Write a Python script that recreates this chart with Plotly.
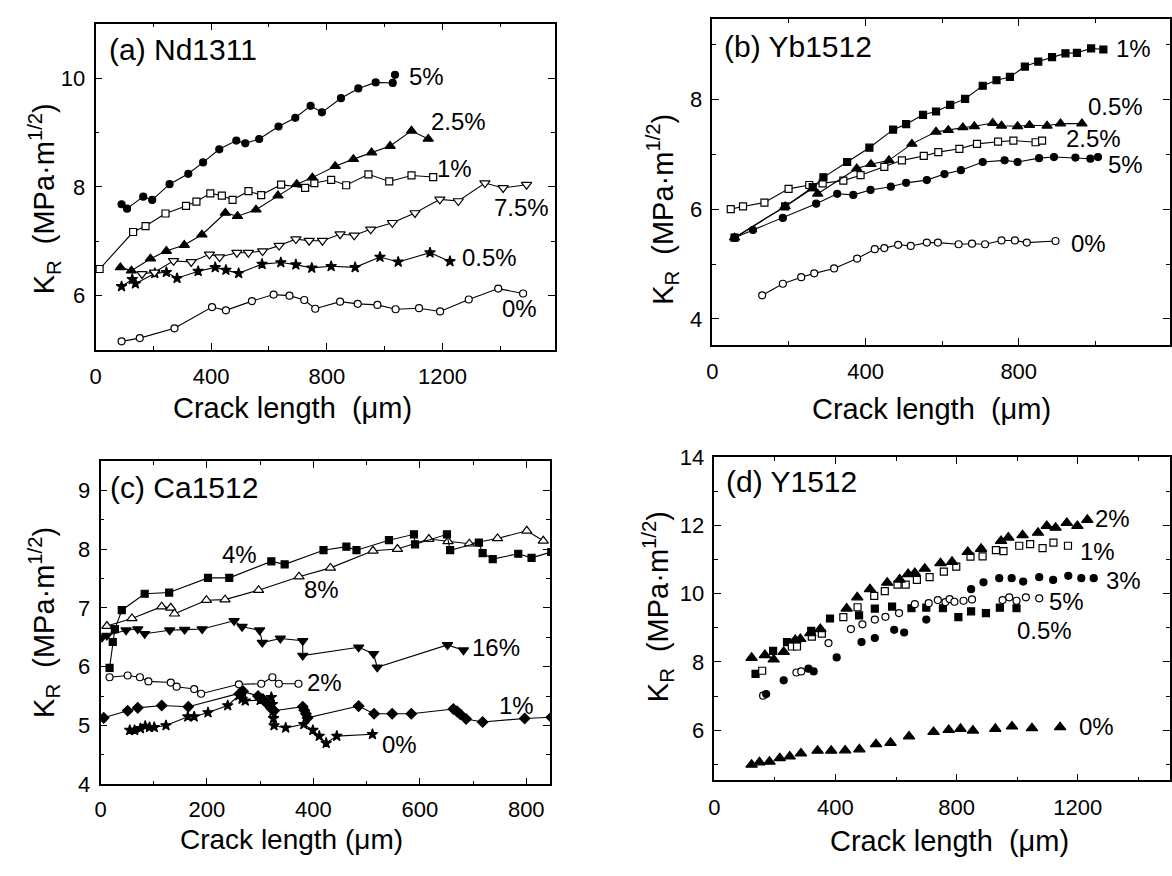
import plotly.graph_objects as go

# ---------------- (a) Nd1311 ----------------
A5_x = [90,109,165,196,256,321,372,428,487,518,566,633,691,744,783,849,909,969,1028,1036]
A5_y = [7.68,7.60,7.82,7.76,8.05,8.24,8.45,8.69,8.85,8.80,8.88,9.11,9.27,9.49,9.37,9.63,9.81,9.92,9.91,10.06]
A25_x = [86,124,190,245,307,368,449,491,555,631,696,750,829,892,955,1019,1093,1151]
A25_y = [6.52,6.46,6.68,6.82,6.93,7.12,7.52,7.46,7.58,7.84,8.05,8.17,8.38,8.51,8.63,8.75,9.03,8.88]
A1_x = [14,130,173,242,313,349,397,437,474,529,573,642,725,757,815,867,944,1016,1093,1168]
A1_y = [6.49,7.17,7.28,7.51,7.65,7.73,7.88,7.84,7.76,7.92,7.85,8.04,7.98,8.07,8.13,8.03,8.23,8.10,8.21,8.18]
A75_x = [161,204,270,331,394,429,489,529,578,635,693,739,785,846,895,952,1027,1105,1191,1255,1347,1410,1491]
A75_y = [6.40,6.43,6.64,6.62,6.76,6.71,6.79,6.79,6.82,6.92,7.04,7.01,7.01,7.13,7.11,7.22,7.34,7.52,7.77,7.74,8.07,7.98,8.04]
A05_x = [90,127,138,205,245,282,355,414,451,495,576,641,693,748,815,898,984,1047,1157,1226]
A05_y = [6.17,6.30,6.22,6.41,6.43,6.32,6.45,6.52,6.47,6.41,6.58,6.61,6.57,6.51,6.54,6.52,6.71,6.62,6.79,6.63]
A0_x = [90,153,273,403,451,541,616,671,722,760,846,907,975,1038,1119,1192,1291,1393,1479]
A0_y = [5.16,5.22,5.40,5.79,5.73,5.90,6.02,6.00,5.92,5.76,5.89,5.85,5.83,5.75,5.77,5.71,5.93,6.13,6.04]

# ---------------- (b) Yb1512 ----------------
B1_x = [58,190,262,290,352,410,472,506,550,584,621,660,706,742,777,816,851,887,922,952,989,1021]
B1_y = [5.48,6.05,6.40,6.58,6.86,7.12,7.45,7.55,7.72,7.78,7.90,8.01,8.25,8.35,8.41,8.60,8.69,8.77,8.84,8.85,8.93,8.91]
B05_x = [58,190,262,275,377,414,461,521,584,616,654,684,732,755,797,828,874,909,965]
B05_y = [5.48,6.05,6.38,6.28,6.74,6.82,6.89,7.19,7.41,7.44,7.49,7.51,7.57,7.52,7.51,7.53,7.52,7.56,7.56]
B25_x = [48,80,136,199,253,288,342,387,449,495,552,590,645,691,746,786,844,861]
B25_y = [6.00,6.05,6.12,6.37,6.44,6.47,6.52,6.62,6.77,6.89,6.97,7.04,7.10,7.19,7.23,7.25,7.22,7.25]
B5_x = [58,106,184,271,326,368,413,466,506,560,606,649,706,763,797,853,892,948,987,1007]
B5_y = [5.48,5.62,5.84,6.10,6.28,6.26,6.35,6.41,6.48,6.53,6.64,6.71,6.86,6.89,6.86,6.93,6.95,6.94,6.92,6.95]
B0_x = [130,184,232,266,318,378,424,449,485,518,560,589,643,678,712,755,790,821,896]
B0_y = [4.43,4.64,4.76,4.83,4.92,5.10,5.27,5.29,5.35,5.33,5.39,5.39,5.36,5.37,5.36,5.43,5.43,5.39,5.42]

# ---------------- (c) Ca1512 ----------------
C4_x = [17,23,27,40,83,129,202,242,321,346,419,462,481,542,589,591,651,657,711,718,737,785,810,847]
C4_y = [5.98,6.42,6.64,6.96,7.24,7.26,7.51,7.51,7.79,7.74,7.98,8.04,7.98,8.15,8.25,8.08,8.25,7.98,8.11,7.93,7.83,7.92,7.85,7.95]
C8_x = [12,59,115,132,139,199,234,297,373,432,512,558,617,653,693,746,801,832]
C8_y = [6.69,6.82,7.02,7.00,6.90,7.13,7.14,7.30,7.53,7.68,7.97,8.00,8.17,8.13,8.09,8.18,8.31,8.14]
C16_x = [3,12,48,70,83,130,158,191,251,266,299,304,338,380,380,485,513,520,652,682]
C16_y = [6.50,6.53,6.62,6.64,6.56,6.62,6.63,6.64,6.78,6.68,6.62,6.41,6.48,6.44,6.19,6.33,6.22,5.99,6.37,6.28]
C2_x = [17,51,74,90,132,143,176,189,260,302,323,335,372]
C2_y = [5.82,5.85,5.82,5.75,5.73,5.66,5.62,5.54,5.70,5.71,5.82,5.71,5.71]
C1_x = [6,51,70,115,165,262,268,296,305,313,321,326,380,383,386,389,485,514,548,584,663,670,676,687,718,797,847]
C1_y = [5.13,5.25,5.30,5.34,5.32,5.55,5.58,5.50,5.45,5.37,5.29,5.25,5.32,5.26,5.20,5.13,5.33,5.20,5.20,5.20,5.28,5.24,5.19,5.11,5.06,5.12,5.14]
C0_x = [55,64,75,84,92,101,123,164,176,202,239,260,266,272,300,321,323,324,325,326,348,382,399,411,424,444,511]
C0_y = [4.92,4.92,4.95,4.99,4.97,4.97,5.00,5.15,5.15,5.22,5.34,5.51,5.45,5.42,5.43,5.48,5.36,5.24,5.12,5.00,4.96,5.02,4.92,4.82,4.70,4.82,4.85]

# ---------------- (d) Y1512 ----------------
D2_x = [123,167,196,229,267,284,317,350,437,472,514,571,612,640,662,695,747,785,837,881,947,971,1018,1069,1098,1127,1164,1199,1232]
D2_y = [8.12,8.20,8.07,8.29,8.64,8.67,8.84,8.96,9.56,9.89,10.13,10.32,10.41,10.57,10.60,10.73,10.89,10.93,11.22,11.31,11.54,11.64,11.71,11.78,11.98,11.93,12.07,11.98,12.16]
D1_x = [158,256,273,322,355,426,473,528,563,605,632,669,711,758,799,846,886,930,955,1007,1043,1084,1120,1168]
D1_y = [7.74,8.45,8.45,8.74,8.83,9.31,9.60,9.93,10.07,10.26,10.26,10.40,10.48,10.64,10.79,11.08,11.09,11.27,11.24,11.40,11.45,11.33,11.49,11.40]
D3_x = [171,229,311,328,404,486,530,594,627,700,848,889,941,982,1020,1073,1119,1169,1212,1253]
D3_y = [7.06,7.46,7.80,7.72,8.13,8.58,8.70,8.94,8.86,9.24,10.13,10.33,10.45,10.45,10.35,10.48,10.40,10.52,10.45,10.45]
D5_x = [161,271,287,377,451,489,530,565,610,662,708,738,763,777,793,823,851,952,974,998,1029,1073]
D5_y = [7.01,7.69,7.72,8.55,8.96,9.10,9.24,9.32,9.43,9.69,9.72,9.81,9.75,9.84,9.76,9.79,9.83,9.81,9.89,9.79,9.89,9.86]
D05_x = [136,194,240,320,382,478,530,587,651,700,755,806,848,897,943,998]
D05_y = [7.65,8.32,8.58,8.91,9.27,9.36,9.56,9.62,9.57,9.59,9.57,9.31,9.48,9.43,9.59,9.57]
D0_x = [123,149,182,216,249,286,341,386,432,479,534,582,643,724,774,813,854,928,983,1049,1142]
D0_y = [4.99,5.06,5.08,5.18,5.23,5.32,5.40,5.40,5.41,5.44,5.59,5.63,5.82,5.95,6.01,6.04,5.99,6.04,6.11,6.06,6.09]

W, H = 1172, 876
FONT = "Liberation Sans, Arial, sans-serif"

fig = go.Figure()

def add(xs, ys, sym, filled, size, ax, lines=True):
    mk = dict(symbol=sym, size=size,
              color="black" if filled else "white",
              line=dict(color="black", width=1.2))
    fig.add_trace(go.Scatter(
        x=xs, y=ys, mode="lines+markers" if lines else "markers",
        line=dict(color="black", width=1.1), marker=mk,
        xaxis="x" + ("" if ax == 1 else str(ax)),
        yaxis="y" + ("" if ax == 1 else str(ax)),
        showlegend=False, hoverinfo="skip"))

# (a)
add(A0_x, A0_y, "circle", False, 7, 1)
add(A05_x, A05_y, "star", True, 8, 1)
add(A75_x, A75_y, "triangle-down", False, 9, 1)
add(A1_x, A1_y, "square", False, 7, 1)
add(A25_x, A25_y, "triangle-up", True, 9, 1)
add(A5_x, A5_y, "circle", True, 7, 1)
# (b)
add(B0_x, B0_y, "circle", False, 7, 2)
add(B25_x, B25_y, "square", False, 7, 2)
add(B5_x, B5_y, "circle", True, 7, 2)
add(B1_x, B1_y, "square", True, 7, 2)
add(B05_x, B05_y, "triangle-up", True, 9, 2)
# (c)
add(C0_x, C0_y, "star", True, 8, 3)
add(C1_x, C1_y, "diamond", True, 8, 3)
add(C2_x, C2_y, "circle", False, 7, 3)
add(C16_x, C16_y, "triangle-down", True, 9, 3)
add(C8_x, C8_y, "triangle-up", False, 9, 3)
add(C4_x, C4_y, "square", True, 7, 3)
# (d)
add(D0_x, D0_y, "triangle-up", True, 10, 4, False)
add(D05_x, D05_y, "square", True, 7, 4, False)
add(D5_x, D5_y, "circle", False, 7, 4, False)
add(D3_x, D3_y, "circle", True, 7, 4, False)
add(D1_x, D1_y, "square", False, 7, 4, False)
add(D2_x, D2_y, "triangle-up", True, 10, 4, False)

def axis(dom, rng, dtick, mdtick, anchor, standoff):
    return dict(domain=dom, range=rng, dtick=dtick, tick0=0,
                showline=True, linecolor="black", linewidth=1.6,
                mirror="allticks", ticks="inside", ticklen=7, tickwidth=1.4,
                tickcolor="black", showgrid=False, zeroline=False,
                minor=dict(ticks="inside", dtick=mdtick, ticklen=4, tickwidth=1.2,
                           tickcolor="black", showgrid=False),
                tickfont=dict(family=FONT, size=22, color="black"),
                anchor=anchor, ticklabelstandoff=standoff)

def dx(a, b):
    return [a / W, b / W]

def dy(top, bot):
    return [1 - bot / H, 1 - top / H]

fig.update_layout(
    width=W, height=H, margin=dict(l=0, r=0, t=0, b=0),
    paper_bgcolor="white", plot_bgcolor="white",
    xaxis=axis(dx(90, 552), [0, 1590], 400, 200, "y", 6),
    yaxis=axis(dy(12, 348), [5, 11], 2, 1, "x", 4),
    xaxis2=axis(dx(710, 1170), [0, 1195], 400, 200, "y2", 6),
    yaxis2=axis(dy(7, 343), [3.52, 9.47], 2, 1, "x2", 4),
    xaxis3=axis(dx(95, 547), [0, 845], 200, 100, "y3", 4),
    yaxis3=axis(dy(462, 795), [4, 9.5], 1, 0.5, "x3", 4),
    xaxis4=axis(dx(712, 1170), [0, 1505], 400, 200, "y4", 6),
    yaxis4=axis(dy(458, 791), [4.53, 14], 2, 1, "x4", 4),
)

ann = []
def lab(text, x, y, ax, size=24):
    s = "" if ax == 1 else str(ax)
    ann.append(dict(text=text, x=x, y=y, xref="x" + s, yref="y" + s,
                    showarrow=False, xanchor="center", yanchor="middle",
                    font=dict(family=FONT, size=size, color="black")))

def paper(text, px, py, size, angle=0, xanchor="center"):
    ann.append(dict(text=text, x=px / W, y=1 - py / H, xref="paper", yref="paper",
                    showarrow=False, xanchor=xanchor, yanchor="middle",
                    textangle=angle,
                    font=dict(family=FONT, size=size, color="black")))

# series labels
lab("5%", 1145, 10.03, 1); lab("2.5%", 1255, 9.2, 1); lab("1%", 1243, 8.33, 1)
lab("7.5%", 1473, 7.62, 1); lab("0.5%", 1364, 6.70, 1); lab("0%", 1468, 5.76, 1)
lab("1%", 1099, 8.92, 2); lab("0.5%", 1052, 7.88, 2); lab("2.5%", 995, 7.29, 2)
lab("5%", 1078, 6.81, 2); lab("0%", 981, 5.38, 2)
lab("4%", 262, 7.91, 3); lab("8%", 415, 7.31, 3); lab("16%", 744, 6.33, 3)
lab("2%", 420, 5.73, 3); lab("1%", 782, 5.34, 3); lab("0%", 561, 4.67, 3)
lab("2%", 1314, 12.19, 4); lab("1%", 1264, 11.24, 4); lab("3%", 1352, 10.38, 4)
lab("5%", 1164, 9.76, 4); lab("0.5%", 1091, 8.93, 4); lab("0%", 1262, 6.11, 4)

# panel titles
paper("(a) Nd1311", 102, 39, 30, xanchor="left")
paper("(b) Yb1512", 720, 36, 30, xanchor="left")
paper("(c) Ca1512", 103, 489, 30, xanchor="left")
paper("(d) Y1512", 722, 483, 30, xanchor="left")

# axis titles
xt = "Crack length  (\u03bcm)"
paper(xt, 288, 408, 29)
paper(xt, 930, 409, 29)
paper("Crack length (\u03bcm)", 287, 852, 28)
paper(xt, 948, 853, 29)
yt = "K<sub>R</sub>  (MPa\u00b7m<sup>1/2</sup>)"
paper(yt, 38, 192, 29, angle=-90)
paper(yt, 660, 203, 29, angle=-90)
paper(yt, 38, 628, 29, angle=-90)
paper(yt, 655, 612, 29, angle=-90)

fig.update_layout(annotations=ann)
fig.write_html("out.html")
